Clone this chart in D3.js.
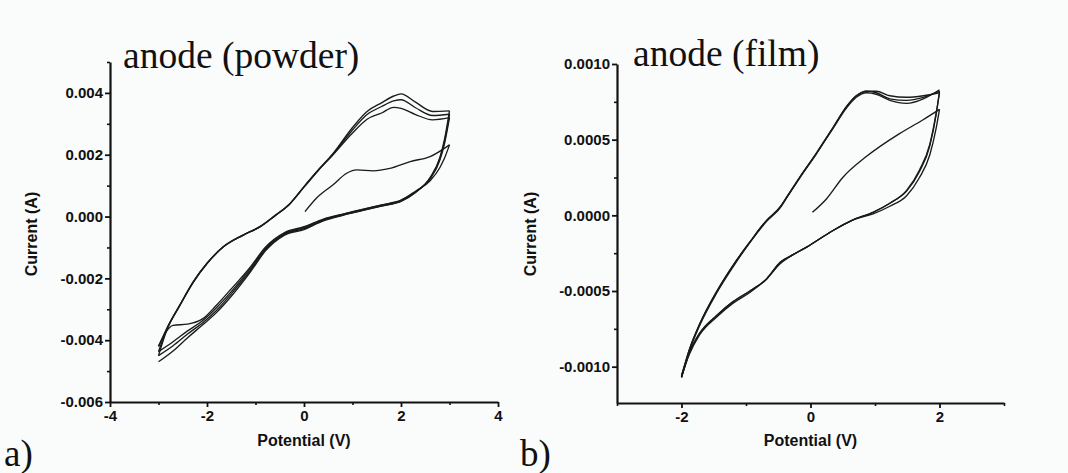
<!DOCTYPE html>
<html>
<head>
<meta charset="utf-8">
<script src="https://cdn.jsdelivr.net/npm/d3@7/dist/d3.min.js"></script>
<style>
html,body{margin:0;padding:0;background:#fafbfb;}
svg{display:block;}
.tick text{font-family:"Liberation Sans",Arial,sans-serif;font-weight:bold;font-size:15px;fill:#111;}
</style>
</head>
<body>
<svg id="chart" width="1068" height="473"></svg>
<script>
// ---------- Panel a) anode (powder) ----------
const powderXTicks = [-4, -2, 0, 2, 4];
const powderXMinor = [-3, -1, 1, 3];
const powderYTicks = [-0.006, -0.004, -0.002, 0.000, 0.002, 0.004];
const powderYMinor = [-0.005, -0.003, -0.001, 0.001, 0.003, 0.005];

// initial sweep from 0 V to +3 V
const powderInitV = [0.02, 0.26, 0.6, 0.88, 1.09, 1.43, 1.77, 2.19, 2.6, 3.0];
const powderInitI = [0.00016, 0.0006, 0.00103, 0.0014, 0.00151, 0.00148, 0.00156, 0.00178, 0.00194, 0.00232];

// cathodic sweeps (+3 V -> -3 V)
const powderCathV = [3.0, 2.9, 2.8, 2.6, 2.3, 2.0, 1.6, 1.2, 0.8, 0.4, 0.0, -0.4, -0.8, -1.1, -1.5, -1.8, -2.1, -2.4, -2.7, -3.0];
const powderCath1 = [0.00232, 0.0019, 0.00158, 0.00116, 0.00082, 0.00053, 0.00038, 0.00023, 0.00008, -0.00008, -0.00033, -0.00052, -0.001, -0.00162, -0.00234, -0.00286, -0.00332, -0.00348, -0.00352, -0.0042];
const powderCath2 = [0.0032, 0.00238, 0.00182, 0.00122, 0.0008, 0.00052, 0.00037, 0.00022, 0.00007, -0.0001, -0.00036, -0.00055, -0.00104, -0.00167, -0.00243, -0.00294, -0.00338, -0.0037, -0.00405, -0.00437];
const powderCath3 = [0.00331, 0.00245, 0.00186, 0.00124, 0.00079, 0.0005, 0.00035, 0.0002, 0.00005, -0.00012, -0.00039, -0.00058, -0.00108, -0.00173, -0.0025, -0.00303, -0.00345, -0.0038, -0.00418, -0.0045];
const powderCath4 = [0.00342, 0.00252, 0.0019, 0.00126, 0.00078, 0.00049, 0.00034, 0.00019, 0.00004, -0.00014, -0.00042, -0.0006, -0.00112, -0.00178, -0.00258, -0.0031, -0.00352, -0.00392, -0.00435, -0.0047];

// anodic sweeps (-3 V -> +3 V)
const powderAnodV = [-3.0, -2.83, -2.56, -2.28, -2.0, -1.66, -1.25, -0.9, -0.6, -0.3, 0.0, 0.3, 0.6, 1.0, 1.3, 1.6, 1.85, 2.0, 2.3, 2.65, 3.0];
const powderAnod1 = [-0.0042, -0.00362, -0.00286, -0.0021, -0.00151, -0.00097, -0.00059, -0.00032, 0.00003, 0.0004, 0.00095, 0.0015, 0.002, 0.0027, 0.00315, 0.00335, 0.00353, 0.0035, 0.0033, 0.00313, 0.0032];
const powderAnod2 = [-0.00437, -0.00365, -0.00287, -0.00211, -0.00152, -0.00098, -0.0006, -0.00032, 0.00003, 0.0004, 0.00096, 0.00151, 0.00202, 0.0028, 0.0033, 0.00356, 0.00374, 0.00378, 0.00352, 0.00327, 0.00331];
const powderAnod3 = [-0.0045, -0.00368, -0.00288, -0.00212, -0.00152, -0.00098, -0.0006, -0.00033, 0.00002, 0.0004, 0.00097, 0.00152, 0.00204, 0.00288, 0.0034, 0.00368, 0.0039, 0.00397, 0.0037, 0.0034, 0.00342];

// ---------- Panel b) anode (film) ----------
const filmXTicks = [-2, 0, 2];
const filmXMinor = [-3, -1, 1, 3];
const filmYTicks = [-0.0010, -0.0005, 0.0000, 0.0005, 0.0010];
const filmYMinor = [-0.00075, -0.00025, 0.00025, 0.00075];

const filmInitV = [0.03, 0.25, 0.5, 0.87, 1.38, 1.74, 2.0];
const filmInitI = [0.00002, 0.00011, 0.00025, 0.00039, 0.00054, 0.00063, 0.0007];

const filmCathV = [2.0, 1.95, 1.85, 1.69, 1.49, 1.23, 0.97, 0.66, 0.35, -0.06, -0.27, -0.47, -0.68, -0.94, -1.2, -1.45, -1.72, -1.88, -2.0];
const filmCath1 = [0.0007, 0.00058, 0.0004, 0.00025, 0.00013, 0.00006, 0.00001, -0.00003, -0.0001, -0.00021, -0.00026, -0.00031, -0.00042, -0.0005, -0.00057, -0.00066, -0.00078, -0.00091, -0.00106];
const filmCath2 = [0.00081, 0.00068, 0.00047, 0.0003, 0.000165, 0.00008, 0.00002, -0.00003, -0.0001, -0.00021, -0.00026, -0.00031, -0.00042, -0.0005, -0.00057, -0.00066, -0.00078, -0.00091, -0.00107];
const filmCath3 = [0.00082, 0.00067, 0.00046, 0.00029, 0.00016, 0.00008, 0.00002, -0.00003, -0.0001, -0.00021, -0.00026, -0.00032, -0.00042, -0.00051, -0.00058, -0.00067, -0.00079, -0.00092, -0.00107];

const filmAnodV = [-2.0, -1.88, -1.72, -1.45, -1.2, -0.94, -0.68, -0.47, -0.37, -0.17, 0.09, 0.35, 0.56, 0.71, 0.87, 1.02, 1.23, 1.49, 1.75, 2.0];
const filmAnod1 = [-0.00106, -0.00089, -0.00072, -0.0005, -0.00033, -0.000176, -0.000033, 0.000055, 0.00012, 0.00025, 0.00041, 0.00058, 0.00072, 0.00079, 0.00082, 0.00082, 0.00079, 0.00078, 0.00079, 0.00081];
const filmAnod2 = [-0.00107, -0.00089, -0.00072, -0.0005, -0.00033, -0.000176, -0.000033, 0.000055, 0.00012, 0.00025, 0.00041, 0.00058, 0.00072, 0.00079, 0.00082, 0.00081, 0.00077, 0.00076, 0.00078, 0.00082];
const filmAnod3 = [-0.00107, -0.0009, -0.00073, -0.00051, -0.00034, -0.00018, -0.00004, 0.00005, 0.000115, 0.000245, 0.000405, 0.000575, 0.00071, 0.00078, 0.00081, 0.0008, 0.00076, 0.00074, 0.00077, 0.00083];

// ---------- drawing ----------
const svg = d3.select("#chart");
svg.append("rect").attr("width", 1068).attr("height", 473).attr("fill", "#fafbfb");

const fmtMinus = f => d => f(d).replace("\u2212", "-");

function panel(cfg) {
  const x = d3.scaleLinear().domain(cfg.xDomain).range(cfg.xRange);
  const y = d3.scaleLinear().domain(cfg.yDomain).range(cfg.yRange);
  const g = svg.append("g");

  // minor ticks
  g.append("g").attr("transform", `translate(0,${cfg.yRange[0]})`)
    .call(d3.axisBottom(x).tickValues(cfg.xMinor).tickSize(3).tickFormat(""))
    .call(a => a.select(".domain").remove())
    .call(a => a.selectAll("line").attr("stroke", "#111").attr("stroke-width", 1.6));
  g.append("g").attr("transform", `translate(${cfg.xRange[0]},0)`)
    .call(d3.axisLeft(y).tickValues(cfg.yMinor).tickSize(3).tickFormat(""))
    .call(a => a.select(".domain").remove())
    .call(a => a.selectAll("line").attr("stroke", "#111").attr("stroke-width", 1.6));

  // major axes
  const xa = g.append("g").attr("transform", `translate(0,${cfg.yRange[0]})`)
    .call(d3.axisBottom(x).tickValues(cfg.xTicks).tickSize(5).tickSizeOuter(0).tickPadding(3).tickFormat(fmtMinus(d3.format("d"))));
  const ya = g.append("g").attr("transform", `translate(${cfg.xRange[0]},0)`)
    .call(d3.axisLeft(y).tickValues(cfg.yTicks).tickSize(5).tickSizeOuter(0).tickPadding(2).tickFormat(fmtMinus(d3.format(cfg.yFmt))));
  [xa, ya].forEach(a => {
    a.select(".domain").attr("stroke", "#111").attr("stroke-width", 2.2);
    a.selectAll(".tick line").attr("stroke", "#111").attr("stroke-width", 1.8);
  });

  // data lines
  const line = d3.line().x(d => x(d[0])).y(d => y(d[1])).curve(d3.curveMonotoneX);
  cfg.series.forEach(s => {
    const pts = s.v.map((v, i) => [v, s.i[i]]);
    g.append("path").datum(pts).attr("d", line)
      .attr("fill", "none").attr("stroke", "#1a1a1a").attr("stroke-width", 1.35)
      .attr("stroke-linejoin", "round");
  });

  // titles
  g.append("text").attr("x", cfg.titleX).attr("y", cfg.titleY)
    .attr("font-family", "'Liberation Serif','Times New Roman',serif").attr("font-size", 37.5)
    .attr("fill", "#111").text(cfg.title);
  g.append("text").attr("x", (cfg.xRange[0] + cfg.xRange[1]) / 2).attr("y", 446)
    .attr("text-anchor", "middle").attr("font-family", "'Liberation Sans',Arial,sans-serif")
    .attr("font-weight", "bold").attr("font-size", 16).attr("fill", "#111").text("Potential (V)");
  g.append("text").attr("transform", `translate(${cfg.yLabelX},${cfg.yLabelY}) rotate(-90)`)
    .attr("text-anchor", "middle").attr("font-family", "'Liberation Sans',Arial,sans-serif")
    .attr("font-weight", "bold").attr("font-size", 16).attr("fill", "#111").text("Current (A)");
  g.append("text").attr("x", cfg.tagX).attr("y", 466)
    .attr("font-family", "'Liberation Serif','Times New Roman',serif").attr("font-size", 37)
    .attr("fill", "#111").text(cfg.tag);
}

panel({
  xDomain: [-4, 4], xRange: [110, 498],
  yDomain: [-0.006, 0.005], yRange: [402, 62],
  xTicks: powderXTicks, xMinor: powderXMinor, yTicks: powderYTicks, yMinor: powderYMinor,
  yFmt: ".3f",
  series: [
    {v: powderInitV, i: powderInitI},
    {v: powderCathV, i: powderCath1},
    {v: powderAnodV, i: powderAnod1},
    {v: powderCathV, i: powderCath2},
    {v: powderAnodV, i: powderAnod2},
    {v: powderCathV, i: powderCath3},
    {v: powderAnodV, i: powderAnod3},
    {v: powderCathV, i: powderCath4}
  ],
  title: "anode (powder)", titleX: 123, titleY: 68,
  yLabelX: 37, yLabelY: 234,
  tag: "a)", tagX: 4
});

panel({
  xDomain: [-3, 3], xRange: [617, 1004],
  yDomain: [-0.00124, 0.0010], yRange: [403, 64],
  xTicks: filmXTicks, xMinor: filmXMinor, yTicks: filmYTicks, yMinor: filmYMinor,
  yFmt: ".4f",
  series: [
    {v: filmInitV, i: filmInitI},
    {v: filmCathV, i: filmCath1},
    {v: filmAnodV, i: filmAnod1},
    {v: filmCathV, i: filmCath2},
    {v: filmAnodV, i: filmAnod2},
    {v: filmCathV, i: filmCath3},
    {v: filmAnodV, i: filmAnod3}
  ],
  title: "anode (film)", titleX: 633, titleY: 66,
  yLabelX: 536, yLabelY: 234,
  tag: "b)", tagX: 520
});
</script>
</body>
</html>
